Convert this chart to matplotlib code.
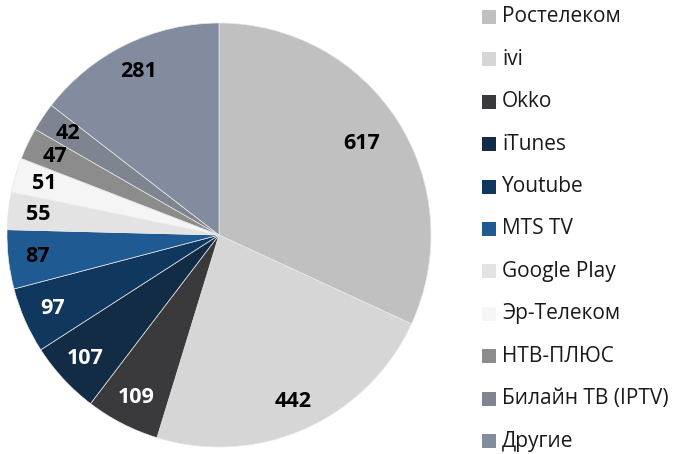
import matplotlib
matplotlib.use("Agg")
import matplotlib.pyplot as plt
from matplotlib.patches import Rectangle
import numpy as np

plt.rcParams['font.family'] = ['Open Sans', 'DejaVu Sans']

# ─── Data ─────────────────────────────────────────────────────────────────────
labels = ["Ростелеком", "ivi", "Okko", "iTunes", "Youtube", "MTS TV",
          "Google Play", "Эр-Телеком", "НТВ-ПЛЮС", "Билайн ТВ (IPTV)", "Другие"]
values = [617, 442, 109, 107, 97, 87, 55, 51, 47, 42, 281]
colors = ["#c0c0c0", "#d6d6d6", "#3a3a3c", "#132c45", "#10385e", "#1f5a93",
          "#e3e3e3", "#f5f5f5", "#8c8c8c", "#7f8590", "#838c9e"]
text_colors = ["black", "black", "white", "white", "white", "black",
               "black", "black", "black", "black", "black"]

W, H = 682, 454
fig = plt.figure(figsize=(W / 100, H / 100), dpi=100)
ax = fig.add_axes([7 / W, 7 / H, 424 / W, 424 / H])

wedges, _ = ax.pie(values, colors=colors, startangle=90, counterclock=False,
                   wedgeprops=dict(edgecolor="#e8e8e8", linewidth=0.5))

# value labels inside the wedges (the biggest one sits a bit further in)
total = sum(values)
ang = 90.0
for v, tc in zip(values, text_colors):
    mid = np.deg2rad(ang - 360.0 * v / total / 2)
    r = 0.80 if v == max(values) else 0.86
    ax.text(r * np.cos(mid), r * np.sin(mid), str(v), ha="center", va="center",
            fontsize=15.5, fontweight="bold", color=tc)
    ang -= 360.0 * v / total
ax.set_xlim(-1, 1); ax.set_ylim(-1, 1)
ax.set_aspect("equal")

# legend drawn by hand to match the row spacing of the original
y0, step, sq = 17, 42.4, 14
for i, (lab, c) in enumerate(zip(labels, colors)):
    yc = y0 + step * i
    fig.patches.append(Rectangle((482 / W, (H - yc - sq / 2) / H), sq / W, sq / H,
                                 transform=fig.transFigure, facecolor=c,
                                 edgecolor="none"))
    fig.text(502 / W, (H - yc) / H, lab, ha="left", va="center", fontsize=15,
             color="#1a1a1a")

fig.savefig("out.png", dpi=100)
